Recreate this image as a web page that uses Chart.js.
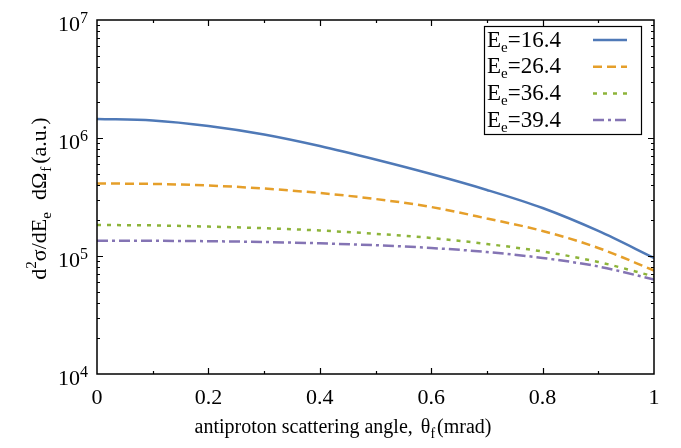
<!DOCTYPE html>
<html><head><meta charset="utf-8">
<script src="https://cdn.jsdelivr.net/npm/chart.js@4/dist/chart.umd.min.js"></script>
<style>html,body{margin:0;padding:0;background:#fff}#wrap{width:681px;height:448px;position:relative}</style>
</head><body><div id="wrap"><canvas id="c" width="681" height="448"></canvas></div>
<script>
// ---- data ----
const angles = [0, 0.1, 0.2, 0.3, 0.4, 0.5, 0.6, 0.7, 0.8, 0.9, 1.0];
const ee164 = [1.449e6, 1.407e6, 1.264e6, 1.071e6, 8.55e5, 6.57e5, 4.95e5, 3.63e5, 2.55e5, 1.63e5, 9.62e4];
const ee264 = [4.12e5, 4.08e5, 3.96e5, 3.73e5, 3.42e5, 3.04e5, 2.60e5, 2.08e5, 1.63e5, 1.17e5, 7.54e4];
const ee364 = [1.831e5, 1.817e5, 1.775e5, 1.720e5, 1.645e5, 1.542e5, 1.421e5, 1.264e5, 1.092e5, 8.90e4, 6.71e4];
const ee394 = [1.348e5, 1.345e5, 1.335e5, 1.314e5, 1.281e5, 1.234e5, 1.169e5, 1.081e5, 9.62e4, 8.15e4, 6.32e4];
const energies = ['16.4', '26.4', '36.4', '39.4'];
const xTickValues = [0, 0.2, 0.4, 0.6, 0.8, 1];
const yDecades = [4, 5, 6, 7];

const FONT = '"Liberation Serif", "DejaVu Serif", serif';
const colors = ['#4f79b7', '#e59f2a', '#8db43a', '#8474b4'];
const dashes = [[], [9, 5], [4, 6], [11, 4, 3, 4]];
const seriesValues = [ee164, ee264, ee364, ee394];

function drawRich(ctx, parts, x, y, align) {
  let total = 0;
  parts.forEach(p => { ctx.font = p.size + 'px ' + FONT; p.w = ctx.measureText(p.t).width + (p.gap || 0); total += p.w; });
  let cx = align === 'center' ? x - total / 2 : (align === 'right' ? x - total : x);
  ctx.textBaseline = 'alphabetic';
  ctx.textAlign = 'left';
  parts.forEach(p => { ctx.font = p.size + 'px ' + FONT; ctx.fillText(p.t, cx + (p.gap || 0), y + (p.dy || 0)); cx += p.w; });
}

const decor = {
  id: 'decor',
  afterDraw(chart) {
    const ctx = chart.ctx, a = chart.chartArea;
    const xs = chart.scales.x, ys = chart.scales.y;
    ctx.save();
    ctx.strokeStyle = '#000';
    ctx.lineWidth = 1.5;
    ctx.setLineDash([]);
    ctx.strokeRect(a.left, a.top, a.right - a.left, a.bottom - a.top);
    ctx.lineWidth = 1.2;
    ctx.beginPath();
    for (let i = 1; i < 10; i++) {
      const px = Math.round(xs.getPixelForValue(i / 10)) + 0.5;
      const len = (i % 2 === 0) ? 6 : 3;
      ctx.moveTo(px, a.bottom); ctx.lineTo(px, a.bottom - len);
      ctx.moveTo(px, a.top); ctx.lineTo(px, a.top + len);
    }
    for (let d = 4; d <= 6; d++) {
      for (let m = 1; m <= 9; m++) {
        if (d === 4 && m === 1) continue;
        const py = Math.round(ys.getPixelForValue(m * Math.pow(10, d))) + 0.5;
        const len = m === 1 ? 6 : 3;
        ctx.moveTo(a.left, py); ctx.lineTo(a.left + len, py);
        ctx.moveTo(a.right, py); ctx.lineTo(a.right - len, py);
      }
    }
    ctx.stroke();

    // y tick labels 10^n
    ctx.fillStyle = '#000';
    ys.ticks.forEach(t => {
      const py = ys.getPixelForValue(t.value);
      const exp = String(Math.round(Math.log10(t.value)));
      drawRich(ctx, [
        {t: '10', size: 22},
        {t: exp, size: 16, dy: -8}
      ], 88, py + 11, 'right');
    });

    // legend
    ctx.lineWidth = 1.2;
    ctx.strokeStyle = '#000';
    ctx.strokeRect(484.5, 26.5, 157, 108);
    energies.forEach((e, i) => {
      const base = 46.5 + i * 26.7;
      ctx.fillStyle = '#000';
      drawRich(ctx, [
        {t: 'E', size: 23},
        {t: 'e', size: 15, dy: 5},
        {t: '=' + e, size: 23}
      ], 487, base, 'left');
      ctx.strokeStyle = colors[i];
      ctx.lineWidth = 2.5;
      ctx.setLineDash(dashes[i]);
      ctx.beginPath();
      ctx.moveTo(593, base - 6.5);
      ctx.lineTo(627, base - 6.5);
      ctx.stroke();
    });
    ctx.setLineDash([]);

    // x title
    ctx.fillStyle = '#000';
    drawRich(ctx, [
      {t: 'antiproton scattering angle,', size: 20},
      {t: 'θ', size: 20, gap: 8},
      {t: 'f', size: 14, dy: 5},
      {t: '(mrad)', size: 20, gap: 2}
    ], 343, 433, 'center');

    // y title (rotated)
    ctx.save();
    ctx.translate(46, 198.5);
    ctx.rotate(-Math.PI / 2);
    drawRich(ctx, [
      {t: 'd', size: 22},
      {t: '2', size: 15, dy: -10},
      {t: 'σ/dE', size: 22},
      {t: 'e', size: 15, dy: 5},
      {t: 'dΩ', size: 22, gap: 12},
      {t: 'f', size: 15, dy: 5, gap: 1},
      {t: '(a.u.)', size: 22, gap: 3}
    ], 0, 0, 'center');
    ctx.restore();
    ctx.restore();
  }
};

const datasets = seriesValues.map((vals, i) => ({
  label: 'Ee=' + energies[i],
  data: angles.map((x, k) => ({x: x, y: vals[k]})),
  borderColor: colors[i],
  borderWidth: 2.5,
  borderDash: dashes[i],
  pointRadius: 0,
  fill: false,
  cubicInterpolationMode: 'monotone'
}));

new Chart(document.getElementById('c'), {
  type: 'line',
  data: { datasets },
  options: {
    responsive: false,
    devicePixelRatio: 1,
    animation: false,
    layout: { padding: { top: 20, right: 27, left: 0, bottom: 0 } },
    plugins: { legend: { display: false }, tooltip: { enabled: false } },
    scales: {
      x: {
        type: 'linear', min: 0, max: 1,
        afterFit(s) { s.height = 74; },
        afterBuildTicks(s) { s.ticks = xTickValues.map(v => ({value: v})); },
        grid: { display: false, drawTicks: false },
        border: { display: false },
        ticks: {
          color: '#000', padding: 11, maxRotation: 0,
          font: { family: FONT, size: 22 },
          callback: v => String(v)
        }
      },
      y: {
        type: 'logarithmic', min: 1e4, max: 1e7,
        afterFit(s) { s.width = 97; },
        afterBuildTicks(s) { s.ticks = yDecades.map(d => ({value: Math.pow(10, d)})); },
        grid: { display: false, drawTicks: false },
        border: { display: false },
        ticks: { display: false }
      }
    }
  },
  plugins: [decor]
});
</script>
</body></html>
